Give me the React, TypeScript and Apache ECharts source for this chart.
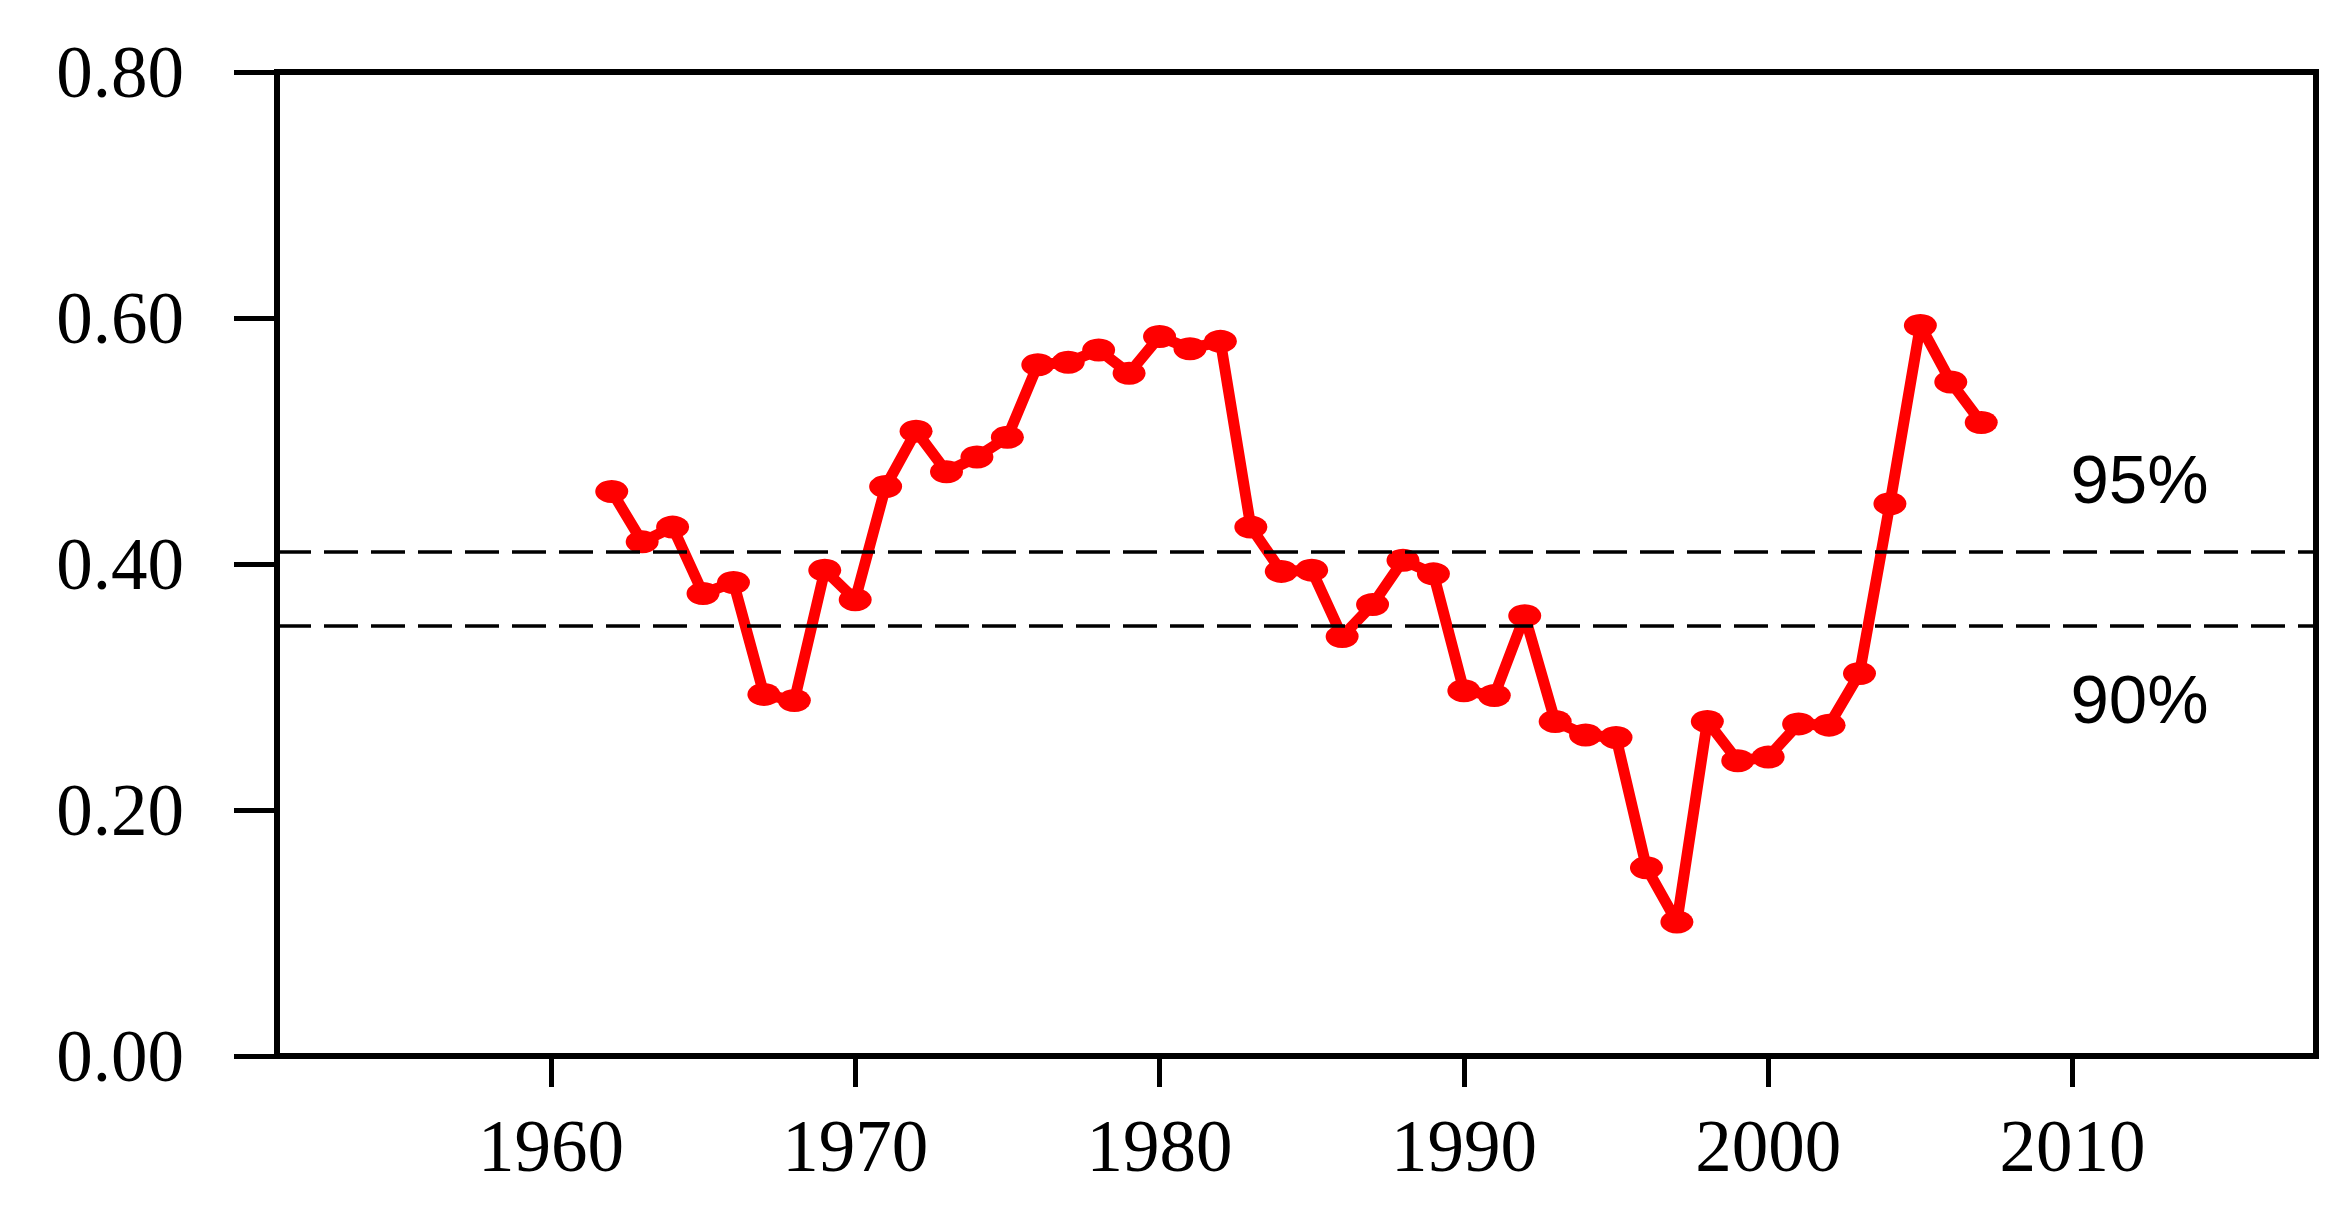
import React, { useEffect, useRef } from "react";
import * as echarts from "echarts";

const years: number[] = [
  1962, 1963, 1964, 1965, 1966, 1967, 1968, 1969, 1970, 1971, 1972, 1973, 1974, 1975, 1976, 1977,
  1978, 1979, 1980, 1981, 1982, 1983, 1984, 1985, 1986, 1987, 1988, 1989, 1990, 1991, 1992, 1993,
  1994, 1995, 1996, 1997, 1998, 1999, 2000, 2001, 2002, 2003, 2004, 2005, 2006, 2007,
];

const values: number[] = [
  0.459, 0.418, 0.43, 0.376, 0.385, 0.294, 0.289, 0.395, 0.371, 0.463, 0.508, 0.475, 0.487, 0.503,
  0.562, 0.564, 0.574, 0.555, 0.585, 0.575, 0.581, 0.43, 0.394, 0.395, 0.341, 0.367, 0.403, 0.392,
  0.297, 0.293, 0.358, 0.272, 0.261, 0.259, 0.153, 0.109, 0.272, 0.24, 0.243, 0.27, 0.269, 0.311,
  0.449, 0.594, 0.548, 0.515,
];

const xTickValues: number[] = [1960, 1970, 1980, 1990, 2000, 2010];
const yTicks: number[] = [0, 0.2, 0.4, 0.6, 0.8];

const thresholdValues: number[] = [0.41, 0.35];
const thresholdLabels: string[] = ["95%", "90%"];
const thresholdLabelYear: number[] = [2012.2, 2012.2];
const thresholdLabelValue: number[] = [0.469, 0.29];

export default function App() {
  const ref = useRef<HTMLDivElement>(null);

  useEffect(() => {
    document.body.style.margin = "0";
    if (!ref.current) return;
    const chart = echarts.init(ref.current, undefined, { renderer: "svg" });
    const serif = "'Liberation Serif', 'Times New Roman', serif";
    chart.setOption({
      animation: false,
      backgroundColor: "#ffffff",
      grid: {
        left: 277,
        right: 30,
        top: 72,
        bottom: 159,
        show: true,
        borderColor: "#000",
        borderWidth: 6,
        backgroundColor: "transparent",
      },
      xAxis: {
        type: "value",
        min: 1951,
        max: 2018,
        splitLine: { show: false },
        axisLine: { show: true, onZero: false, lineStyle: { color: "#000", width: 6 } },
        axisTick: {
          show: true,
          inside: false,
          length: 31,
          lineStyle: { color: "#000", width: 5 },
          customValues: xTickValues,
        },
        axisLabel: {
          show: true,
          margin: 54,
          color: "#000",
          fontFamily: serif,
          fontSize: 73,
          customValues: xTickValues,
          formatter: (v: number) => String(v),
        },
      },
      yAxis: {
        type: "value",
        min: yTicks[0],
        max: yTicks[yTicks.length - 1],
        interval: 0.2,
        splitLine: { show: false },
        axisLine: { show: true, lineStyle: { color: "#000", width: 6 } },
        axisTick: { show: true, inside: false, length: 43, lineStyle: { color: "#000", width: 5 } },
        axisLabel: {
          show: true,
          margin: 93,
          color: "#000",
          fontFamily: serif,
          fontSize: 73,
          formatter: (v: number) => v.toFixed(2),
        },
      },
      series: [
        {
          type: "line",
          data: years.map((y, i) => [y, values[i]]),
          lineStyle: { color: "#ff0000", width: 11 },
          itemStyle: { color: "#ff0000" },
          symbol: "circle",
          symbolSize: [33, 23],
          showSymbol: true,
          z: 3,
          markLine: {
            silent: true,
            symbol: ["none", "none"],
            label: { show: false },
            lineStyle: { color: "#000", width: 3.5, type: [34, 13] },
            data: thresholdValues.map((v) => ({ yAxis: v })),
          },
        },
        {
          type: "scatter",
          symbolSize: 0,
          silent: true,
          itemStyle: { opacity: 1, color: "#000" },
          data: thresholdLabels.map((t, i) => ({
            name: t,
            value: [thresholdLabelYear[i], thresholdLabelValue[i]],
          })),
          label: {
            show: true,
            position: "inside",
            formatter: "{b}",
            color: "#000000",
            opacity: 1,
            fontFamily: "'Liberation Sans', Arial, sans-serif",
            fontSize: 69,
          },
        },
      ],
    });
    return () => chart.dispose();
  }, []);

  return <div ref={ref} style={{ width: 2346, height: 1215 }} />;
}
